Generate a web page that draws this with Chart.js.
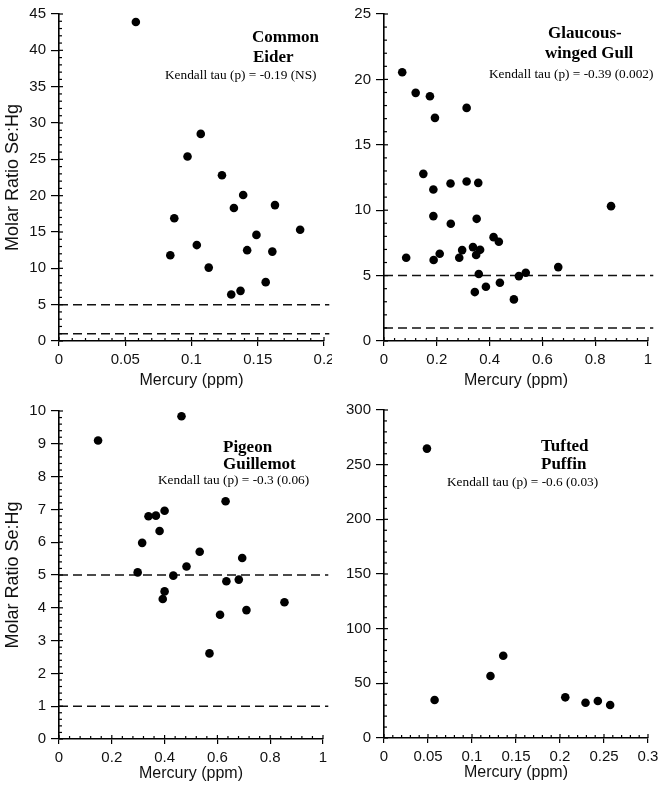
<!DOCTYPE html>
<html><head><meta charset="utf-8">
<script src="https://cdn.jsdelivr.net/npm/chart.js@4"></script>
<style>
html,body{margin:0;padding:0;background:#fff;}
#wrap{position:relative;width:664px;height:789px;overflow:hidden;background:#fff;}
canvas{position:absolute;}
</style></head><body>
<div id="wrap">
<canvas id="c1" width="332" height="390" style="left:0;top:0"></canvas>
<canvas id="c2" width="332" height="390" style="left:332px;top:0"></canvas>
<canvas id="c3" width="332" height="399" style="left:0;top:390px"></canvas>
<canvas id="c4" width="332" height="399" style="left:332px;top:390px"></canvas>
</div>
<script>
// ---------- DATA ----------
// Common Eider
const eiderHg    = [0.058, 0.107, 0.097, 0.123, 0.139, 0.132, 0.163, 0.087, 0.182, 0.149, 0.104, 0.084, 0.142, 0.161, 0.113, 0.156, 0.137, 0.130];
const eiderRatio = [43.9, 28.5, 25.4, 22.8, 20.1, 18.3, 18.7, 16.9, 15.3, 14.6, 13.2, 11.8, 12.5, 12.3, 10.1, 8.1, 6.9, 6.4];
const eiderXTicks = [0, 0.05, 0.1, 0.15, 0.2];
const eiderYTicks = [0, 5, 10, 15, 20, 25, 30, 35, 40, 45];

// Glaucous-winged Gull
const gullHg    = [0.069, 0.120, 0.174, 0.193, 0.313, 0.149, 0.252, 0.313, 0.357, 0.187, 0.187, 0.253, 0.351, 0.860, 0.415, 0.435, 0.337, 0.364, 0.296, 0.349, 0.211, 0.084, 0.285, 0.188, 0.359, 0.511, 0.537, 0.660, 0.386, 0.439, 0.344, 0.492];
const gullRatio = [20.55, 18.97, 18.71, 17.06, 17.82, 12.78, 12.04, 12.19, 12.09, 11.58, 9.55, 8.96, 9.34, 10.31, 7.94, 7.59, 7.18, 6.97, 6.95, 6.57, 6.67, 6.36, 6.36, 6.19, 5.12, 4.96, 5.22, 5.65, 4.15, 4.45, 3.74, 3.18];
const gullXTicks = [0, 0.2, 0.4, 0.6, 0.8, 1];
const gullYTicks = [0, 5, 10, 15, 20, 25];

// Pigeon Guillemot
const guilHg    = [0.148, 0.464, 0.631, 0.400, 0.339, 0.367, 0.381, 0.315, 0.533, 0.694, 0.483, 0.298, 0.433, 0.634, 0.681, 0.400, 0.393, 0.854, 0.710, 0.610, 0.570];
const guilRatio = [9.10, 9.84, 7.25, 6.96, 6.79, 6.81, 6.34, 5.98, 5.71, 5.52, 5.26, 5.08, 4.98, 4.81, 4.86, 4.50, 4.27, 4.17, 3.93, 3.79, 2.61];
const guilXTicks = [0, 0.2, 0.4, 0.6, 0.8, 1];
const guilYTicks = [0, 1, 2, 3, 4, 5, 6, 7, 8, 9, 10];

// Tufted Puffin
const puffHg    = [0.0488, 0.0575, 0.121, 0.1355, 0.206, 0.229, 0.243, 0.257];
const puffRatio = [264.7, 34.7, 56.7, 75.2, 37.2, 32.3, 33.8, 30.2];
const puffXTicks = [0, 0.05, 0.1, 0.15, 0.2, 0.25, 0.3];
const puffYTicks = [0, 50, 100, 150, 200, 250, 300];

// Reference ratio lines (Se:Hg = 5 and 1)
const refLines = [5, 1];

const xTitle = 'Mercury (ppm)';
const yTitle = 'Molar Ratio Se:Hg';

// ---------- DRAWING ----------
const SANS = '"Liberation Sans", Arial, sans-serif';
const SERIF = '"Liberation Serif", "Times New Roman", serif';

function fmt(v){ return String(+Number(v).toFixed(4)); }

const axisTicks = {
  id: 'axisTicks',
  afterDraw(chart, args, opts){
    const ctx = chart.ctx, ca = chart.chartArea;
    const xs = chart.scales.x, ys = chart.scales.y;
    ctx.save();
    ctx.strokeStyle = '#000';
    ctx.lineWidth = 1.2;
    function seg(x1,y1,x2,y2){ ctx.beginPath(); ctx.moveTo(x1,y1); ctx.lineTo(x2,y2); ctx.stroke(); }
    const xt = opts.xTicks, yt = opts.yTicks;
    xt.forEach((v,i)=>{
      const p = xs.getPixelForValue(v);
      seg(p, ca.bottom, p, ca.bottom-4);
      if (i < xt.length-1) for (let k=1;k<5;k++){
        const q = xs.getPixelForValue(v + (xt[i+1]-v)*k/5);
        seg(q, ca.bottom, q, ca.bottom-3);
      }
    });
    yt.forEach((v,i)=>{
      const p = ys.getPixelForValue(v);
      seg(ca.left, p, ca.left+4, p);
      if (i < yt.length-1) for (let k=1;k<5;k++){
        const q = ys.getPixelForValue(v + (yt[i+1]-v)*k/5);
        seg(ca.left, q, ca.left+3, q);
      }
    });
    ctx.restore();
  }
};

const labels = {
  id: 'labels',
  afterDraw(chart, args, opts){
    const ctx = chart.ctx;
    ctx.save();
    ctx.fillStyle = '#000';
    ctx.textBaseline = 'alphabetic';
    ctx.textAlign = 'left';
    (opts.items || []).forEach(it=>{
      ctx.font = it.font;
      ctx.fillText(it.text, it.x, it.y);
    });
    ctx.restore();
  }
};

function makePanel(id, hg, ratio, xTicks, yTicks, L){
  const pts = hg.map((x,i)=>({x, y: ratio[i]}));
  const xMin = xTicks[0], xMax = xTicks[xTicks.length-1];
  const xEnd = xMax + (xMax - xMin) * 0.02;
  const datasets = [{
    type: 'scatter',
    data: pts,
    backgroundColor: '#000',
    borderColor: '#000',
    pointRadius: 4.3,
    pointBorderWidth: 0,
    order: 0
  }];
  if (L.lines) refLines.forEach(r=>{
    datasets.push({
      type: 'line',
      data: [{x: xMin, y: r}, {x: xEnd, y: r}],
      borderColor: '#111',
      borderWidth: 1.5,
      borderDash: [9, 5],
      pointRadius: 0,
      fill: false,
      clip: false,
      order: 1
    });
  });
  return new Chart(document.getElementById(id), {
    type: 'scatter',
    data: { datasets },
    options: {
      responsive: false,
      animation: false,
      events: [],
      layout: { padding: L.pad },
      plugins: {
        legend: { display: false },
        tooltip: { enabled: false },
        axisTicks: { xTicks, yTicks },
        labels: { items: L.items }
      },
      scales: {
        x: {
          type: 'linear',
          min: xMin, max: xMax,
          afterBuildTicks: s => { s.ticks = xTicks.map(v=>({value: v})); },
          afterFit: s => { s.height = L.xH; s.paddingLeft = 0; s.paddingRight = 0; },
          ticks: { callback: fmt, font: { family: SANS, size: 15 }, color: '#111', padding: 5, maxRotation: 0, autoSkip: false },
          grid: { drawOnChartArea: false, drawTicks: true, tickLength: 5, color: '#000', lineWidth: 1.2 },
          border: { display: true, color: '#000', width: 1.6 },
          title: { display: true, text: xTitle, font: { family: SANS, size: 16 }, color: '#111', padding: { top: 0, bottom: L.xTitlePad } }
        },
        y: {
          type: 'linear',
          min: yTicks[0], max: yTicks[yTicks.length-1],
          afterBuildTicks: s => { s.ticks = yTicks.map(v=>({value: v})); },
          afterFit: s => { s.width = L.yW; s.paddingTop = 0; s.paddingBottom = 0; },
          ticks: { callback: fmt, font: { family: SANS, size: 15 }, color: '#111', padding: 5, autoSkip: false },
          grid: { drawOnChartArea: false, drawTicks: true, tickLength: 8, color: '#000', lineWidth: 1.2 },
          border: { display: true, color: '#000', width: 1.6 },
          title: { display: !!L.yTitle, text: yTitle, font: { family: SANS, size: 18 }, color: '#111', padding: { top: 2, bottom: 0 } }
        }
      }
    },
    plugins: [axisTicks, labels]
  });
}

const BOLD = 'bold 17px ' + SERIF;
const KEN = '13.3px ' + SERIF;

makePanel('c1', eiderHg, eiderRatio, eiderXTicks, eiderYTicks, {
  pad: { left: 0, top: 14, right: 8, bottom: 0 }, yW: 59, xH: 49, xTitlePad: 0, yTitle: true, lines: true,
  items: [
    { text: 'Common', x: 252, y: 42, font: BOLD },
    { text: 'Eider', x: 253, y: 62, font: BOLD },
    { text: 'Kendall tau (p) = -0.19 (NS)', x: 165, y: 79, font: KEN }
  ]
});
makePanel('c2', gullHg, gullRatio, gullXTicks, gullYTicks, {
  pad: { left: 0, top: 14, right: 16, bottom: 0 }, yW: 52, xH: 49, xTitlePad: 0, yTitle: false, lines: true,
  items: [
    { text: 'Glaucous-', x: 216, y: 38, font: BOLD },
    { text: 'winged Gull', x: 213, y: 58, font: BOLD },
    { text: 'Kendall tau (p) = -0.39 (0.002)', x: 157, y: 78, font: KEN }
  ]
});
makePanel('c3', guilHg, guilRatio, guilXTicks, guilYTicks, {
  pad: { left: 0, top: 21, right: 9, bottom: 0 }, yW: 59, xH: 50, xTitlePad: 6, yTitle: true, lines: true,
  items: [
    { text: 'Pigeon', x: 223, y: 62, font: BOLD },
    { text: 'Guillemot', x: 223, y: 79, font: BOLD },
    { text: 'Kendall tau (p) = -0.3 (0.06)', x: 158, y: 94, font: KEN }
  ]
});
makePanel('c4', puffHg, puffRatio, puffXTicks, puffYTicks, {
  pad: { left: 0, top: 20, right: 16, bottom: 0 }, yW: 52, xH: 51, xTitlePad: 7, yTitle: false, lines: false,
  items: [
    { text: 'Tufted', x: 209, y: 61, font: BOLD },
    { text: 'Puffin', x: 209, y: 79, font: BOLD },
    { text: 'Kendall tau (p) = -0.6 (0.03)', x: 115, y: 96, font: KEN }
  ]
});
</script>
</body></html>
